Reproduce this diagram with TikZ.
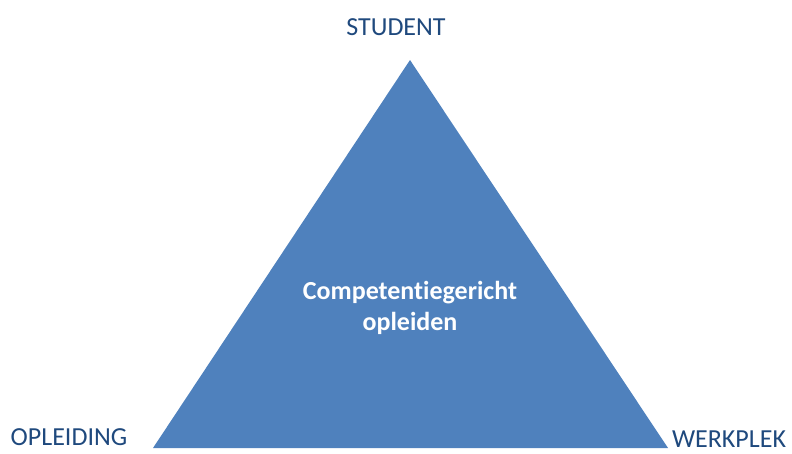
\documentclass[tikz,border=0pt]{standalone}
\usepackage{fontspec}
\setmainfont[RawFeature={-liga;-clig;-calt;-dlig}]{Carlito}
\usetikzlibrary{positioning}
\definecolor{triblue}{HTML}{4F81BD}
\definecolor{labelblue}{HTML}{1F497D}

\begin{document}
\begin{tikzpicture}[
    x=1pt, y=-1pt,
    corner/.style={font=\fontsize{26}{30}\selectfont, text=labelblue, inner sep=0pt},
    centre/.style={font=\fontsize{26}{31}\selectfont\bfseries, text=white, align=center, inner sep=0pt},
    triangle/.style={fill=triblue, draw=none}
]

% Fix the canvas size
\useasboundingbox (0, 0) rectangle (792, 453);

% Corners of the triangle
\coordinate (top) at (410, 60);
\coordinate (left) at (153, 448);
\coordinate (right) at (668, 448);

% Draw the triangle
\fill[triangle] (top) -- (left) -- (right) -- cycle;

% Labels at the corners
\node[corner] (student) at (396, 27) {STUDENT};
\node[corner] (opleiding) at (69, 437) {OPLEIDING};
\node[corner] (werkplek) at (729, 439) {WERKPLEK};

% Text in the middle
\node[centre] (kern) at (410, 308) {Competentiegericht\\opleiden};

\end{tikzpicture}
\end{document}
